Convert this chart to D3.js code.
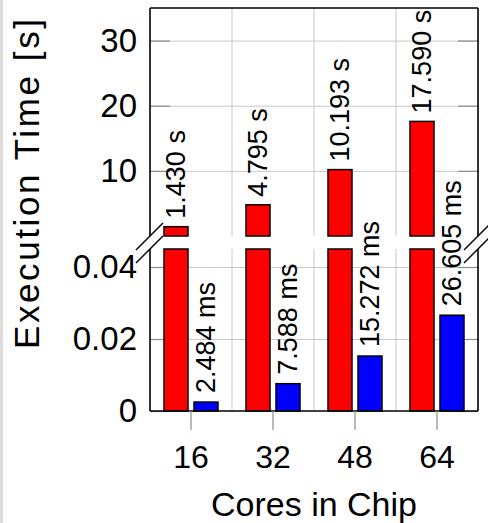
<!DOCTYPE html>
<html>
<head>
<meta charset="utf-8">
<script src="https://cdn.jsdelivr.net/npm/d3@7"></script>
<style>
  body { margin: 0; background: #fff; }
  svg { display: block; font-family: "Liberation Sans", Arial, sans-serif; }
</style>
</head>
<body>
<svg width="488" height="523"></svg>
<script>
// data
var cores = [16, 32, 48, 64];
var cpuSeconds = [1.430, 4.795, 10.193, 17.590];   // red bars, seconds
var gpuMillis = [2.484, 7.588, 15.272, 26.605];    // blue bars, milliseconds
var topTicks = [10, 20, 30];
var bottomTicks = [0, 0.02, 0.04];

(function() {
var svg = d3.select("svg");
var left = 150, right = 478, plotTop = 8, bottom = 411;
var breakTop = 236, breakBottom = 249;

// light border strip on the left edge
svg.append("rect").attr("x", 0).attr("y", 0).attr("width", 3).attr("height", 523).attr("fill", "#dcdcdc");

var x0 = d3.scaleBand().domain(cores).range([left, right]).paddingInner(0).paddingOuter(0);
var x1 = d3.scaleBand().domain(["cpu", "gpu"]).range([14, 68]).paddingInner(0.2);

var yTop = d3.scaleLinear().domain([0, 35]).range([breakTop, plotTop]);
var yBot = d3.scaleLinear().domain([0, 0.045]).range([bottom, breakBottom]).clamp(true);

var rows = cores.map(function(c, i) {
  return {core: c, cpu: cpuSeconds[i], gpu: gpuMillis[i] / 1000, gpuMs: gpuMillis[i]};
});

// gridlines
function hgrid(scale, ticks) {
  svg.append("g").selectAll("line").data(ticks.filter(function(t) { return t > 0; }))
    .enter().append("line")
    .attr("x1", left).attr("x2", right)
    .attr("y1", function(d) { return scale(d) + 0.5; })
    .attr("y2", function(d) { return scale(d) + 0.5; })
    .attr("stroke", "#c8c8c8").attr("stroke-width", 1);
}
hgrid(yTop, topTicks);
hgrid(yBot, bottomTicks);

var seps = cores.slice(0, -1).map(function(c) { return x0(c) + x0.bandwidth(); });
[[plotTop, breakTop], [breakBottom, bottom]].forEach(function(p) {
  svg.append("g").selectAll("line").data(seps).enter().append("line")
    .attr("x1", function(d) { return d; }).attr("x2", function(d) { return d; })
    .attr("y1", p[0]).attr("y2", p[1])
    .attr("stroke", "#c8c8c8").attr("stroke-width", 1);
});

// inner tick marks
function ticks(scale, values) {
  var gl = svg.append("g").attr("transform", "translate(" + left + ",0)")
    .call(d3.axisLeft(scale).tickValues(values).tickSize(-20).tickPadding(13)
      .tickFormat(function(d) { return String(d); }));
  var gr = svg.append("g").attr("transform", "translate(" + right + ",0)")
    .call(d3.axisRight(scale).tickValues(values).tickSize(-20).tickFormat(""));
  [gl, gr].forEach(function(g) {
    g.select(".domain").remove();
    g.selectAll(".tick line").attr("stroke", "#8c8c8c").attr("stroke-width", 1.2);
    g.selectAll("text").attr("font-size", 33).attr("fill", "#000")
      .attr("font-family", "Liberation Sans, Arial, sans-serif");
  });
}
ticks(yTop, topTicks);
ticks(yBot, bottomTicks);

// bars
var groups = svg.append("g").selectAll("g").data(rows).enter().append("g")
  .attr("transform", function(d) { return "translate(" + x0(d.core) + ",0)"; });

groups.append("rect")
  .attr("x", x1("cpu")).attr("width", x1.bandwidth())
  .attr("y", function(d) { return yTop(d.cpu); })
  .attr("height", function(d) { return breakTop - yTop(d.cpu); })
  .attr("fill", "#ff0000").attr("stroke", "#000").attr("stroke-width", 1.5);

groups.append("rect")
  .attr("x", x1("cpu")).attr("width", x1.bandwidth())
  .attr("y", function(d) { return yBot(d.cpu); })
  .attr("height", function(d) { return bottom - yBot(d.cpu); })
  .attr("fill", "#ff0000").attr("stroke", "#000").attr("stroke-width", 1.5);

groups.append("rect")
  .attr("x", x1("gpu")).attr("width", x1.bandwidth())
  .attr("y", function(d) { return yBot(d.gpu); })
  .attr("height", function(d) { return bottom - yBot(d.gpu); })
  .attr("fill", "#0000ff").attr("stroke", "#000").attr("stroke-width", 1.5);

// value labels
groups.append("text")
  .attr("transform", function(d) {
    return "translate(" + (x1("cpu") + x1.bandwidth() / 2) + "," + (yTop(d.cpu) - 8) + ") rotate(-90)";
  })
  .attr("dy", "0.35em").attr("font-size", 27)
  .text(function(d) { return d.cpu.toFixed(3) + " s"; });

groups.append("text")
  .attr("transform", function(d) {
    return "translate(" + (x1("gpu") + x1.bandwidth() / 2) + "," + (yBot(d.gpu) - 9) + ") rotate(-90)";
  })
  .attr("dy", "0.35em").attr("font-size", 27)
  .text(function(d) { return d.gpuMs.toFixed(3) + " ms"; });

// frame
var frame = svg.append("g").attr("stroke", "#000").attr("stroke-width", 1.6).attr("fill", "none");
frame.append("line").attr("x1", left).attr("x2", right).attr("y1", plotTop).attr("y2", plotTop);
frame.append("line").attr("x1", left).attr("x2", right).attr("y1", bottom).attr("y2", bottom);
[left, right].forEach(function(xx) {
  frame.append("line").attr("x1", xx).attr("x2", xx).attr("y1", plotTop).attr("y2", breakTop);
  frame.append("line").attr("x1", xx).attr("x2", xx).attr("y1", breakBottom).attr("y2", bottom);
  [breakTop, breakBottom].forEach(function(yy) {
    frame.append("line")
      .attr("x1", xx - 14).attr("y1", yy + 14)
      .attr("x2", xx + 13).attr("y2", yy - 13)
      .attr("stroke-width", 1.4);
  });
});

// x axis
var gx = svg.append("g").attr("transform", "translate(0," + bottom + ")")
  .call(d3.axisBottom(x0).tickSize(19).tickPadding(15));
gx.select(".domain").remove();
gx.selectAll(".tick line").attr("stroke", "#8c8c8c").attr("stroke-width", 1.2);
gx.selectAll("text").attr("font-size", 32).attr("fill", "#000")
  .attr("font-family", "Liberation Sans, Arial, sans-serif");

// axis titles
svg.append("text").attr("x", (left + right) / 2).attr("y", 516)
  .attr("text-anchor", "middle").attr("font-size", 34).text("Cores in Chip");

svg.append("text").attr("transform", "translate(39,184) rotate(-90)")
  .attr("text-anchor", "middle").attr("font-size", 35)
  .attr("textLength", 330).attr("lengthAdjust", "spacing")
  .text("Execution Time [s]");
})();
</script>
</body>
</html>
